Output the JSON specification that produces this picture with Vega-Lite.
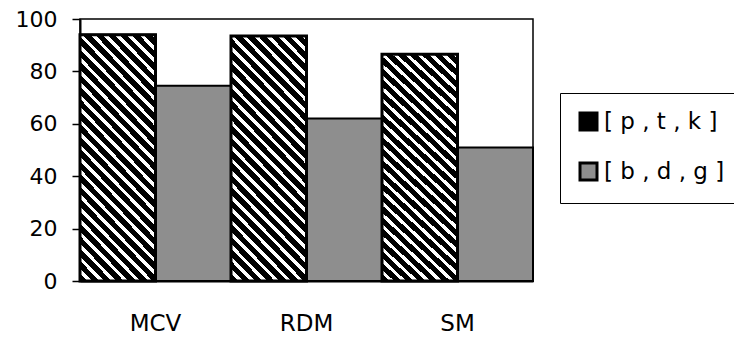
{
  "$schema": "https://vega.github.io/schema/vega-lite/v6.json",
  "width": 453,
  "height": 262,
  "autosize": {"type": "none"},
  "padding": {"left": 80, "top": 19, "right": 201, "bottom": 57},
  "background": "white",
  "config": {
    "view": {"stroke": "#000", "strokeWidth": 1.5},
    "font": "DejaVu Sans"
  },
  "data": {
    "values": [
      {"group": "MCV", "series": "[ p , t , k ]", "value": 94},
      {"group": "MCV", "series": "[ b , d , g ]", "value": 74.5},
      {"group": "RDM", "series": "[ p , t , k ]", "value": 93.5},
      {"group": "RDM", "series": "[ b , d , g ]", "value": 62},
      {"group": "SM", "series": "[ p , t , k ]", "value": 86.5},
      {"group": "SM", "series": "[ b , d , g ]", "value": 51}
    ]
  },
  "encoding": {
    "x": {
      "field": "group",
      "type": "nominal",
      "sort": ["MCV", "RDM", "SM"],
      "scale": {"paddingInner": 0, "paddingOuter": 0},
      "axis": {
        "title": null,
        "labelAngle": 0,
        "labelFont": "DejaVu Sans",
        "labelFontSize": 23,
        "labelColor": "#000",
        "ticks": false,
        "labelPadding": 31,
        "domainColor": "#000",
        "domainWidth": 2
      }
    },
    "xOffset": {
      "field": "series",
      "type": "nominal",
      "scale": {"domain": ["[ p , t , k ]", "[ b , d , g ]"], "paddingInner": 0, "paddingOuter": 0}
    },
    "y": {
      "field": "value",
      "type": "quantitative",
      "scale": {"domain": [0, 100], "nice": false},
      "axis": {
        "title": null,
        "values": [0, 20, 40, 60, 80, 100],
        "grid": false,
        "labelFont": "DejaVu Sans",
        "labelFontSize": 22,
        "labelColor": "#000",
        "tickColor": "#000",
        "tickSize": 8,
        "tickWidth": 1.5,
        "labelPadding": 15,
        "domainColor": "#000",
        "domainWidth": 2
      }
    }
  },
  "layer": [
    {
      "mark": {"type": "bar", "stroke": "#000", "strokeWidth": 2},
      "encoding": {
        "color": {
          "field": "series",
          "type": "nominal",
          "scale": {"domain": ["[ p , t , k ]", "[ b , d , g ]"], "range": ["#000000", "#8e8e8e"]},
          "legend": {
            "title": null,
            "orient": "none",
            "legendX": 480,
            "legendY": 74,
            "padding": 17,
            "strokeColor": "#000",
            "fillColor": "#fff",
            "symbolType": "square",
            "symbolSize": 289,
            "symbolStrokeColor": "#000",
            "symbolStrokeWidth": 3,
            "labelFont": "DejaVu Sans",
            "labelFontSize": 23,
            "labelColor": "#000",
            "labelOffset": 4,
            "rowPadding": 21
          }
        }
      }
    },
    {
      "transform": [{"filter": "datum.series === '[ p , t , k ]'"}],
      "mark": {
        "type": "bar",
        "stroke": "#000",
        "strokeWidth": 3,
        "fill": {
          "gradient": "linear",
          "x1": 0, "y1": 1, "x2": 0.3764, "y2": -0.1966,
          "stops": [
            {"offset": 0, "color": "#000"}, {"offset": 0.0238, "color": "#000"}, {"offset": 0.0238, "color": "#fff"}, {"offset": 0.0385, "color": "#fff"},
            {"offset": 0.0385, "color": "#000"}, {"offset": 0.0623, "color": "#000"}, {"offset": 0.0623, "color": "#fff"}, {"offset": 0.0769, "color": "#fff"},
            {"offset": 0.0769, "color": "#000"}, {"offset": 0.1007, "color": "#000"}, {"offset": 0.1007, "color": "#fff"}, {"offset": 0.1154, "color": "#fff"},
            {"offset": 0.1154, "color": "#000"}, {"offset": 0.1392, "color": "#000"}, {"offset": 0.1392, "color": "#fff"}, {"offset": 0.1538, "color": "#fff"},
            {"offset": 0.1538, "color": "#000"}, {"offset": 0.1777, "color": "#000"}, {"offset": 0.1777, "color": "#fff"}, {"offset": 0.1923, "color": "#fff"},
            {"offset": 0.1923, "color": "#000"}, {"offset": 0.2161, "color": "#000"}, {"offset": 0.2161, "color": "#fff"}, {"offset": 0.2308, "color": "#fff"},
            {"offset": 0.2308, "color": "#000"}, {"offset": 0.2546, "color": "#000"}, {"offset": 0.2546, "color": "#fff"}, {"offset": 0.2692, "color": "#fff"},
            {"offset": 0.2692, "color": "#000"}, {"offset": 0.2931, "color": "#000"}, {"offset": 0.2931, "color": "#fff"}, {"offset": 0.3077, "color": "#fff"},
            {"offset": 0.3077, "color": "#000"}, {"offset": 0.3315, "color": "#000"}, {"offset": 0.3315, "color": "#fff"}, {"offset": 0.3462, "color": "#fff"},
            {"offset": 0.3462, "color": "#000"}, {"offset": 0.37, "color": "#000"}, {"offset": 0.37, "color": "#fff"}, {"offset": 0.3846, "color": "#fff"},
            {"offset": 0.3846, "color": "#000"}, {"offset": 0.4085, "color": "#000"}, {"offset": 0.4085, "color": "#fff"}, {"offset": 0.4231, "color": "#fff"},
            {"offset": 0.4231, "color": "#000"}, {"offset": 0.4469, "color": "#000"}, {"offset": 0.4469, "color": "#fff"}, {"offset": 0.4615, "color": "#fff"},
            {"offset": 0.4615, "color": "#000"}, {"offset": 0.4854, "color": "#000"}, {"offset": 0.4854, "color": "#fff"}, {"offset": 0.5, "color": "#fff"},
            {"offset": 0.5, "color": "#000"}, {"offset": 0.5238, "color": "#000"}, {"offset": 0.5238, "color": "#fff"}, {"offset": 0.5385, "color": "#fff"},
            {"offset": 0.5385, "color": "#000"}, {"offset": 0.5623, "color": "#000"}, {"offset": 0.5623, "color": "#fff"}, {"offset": 0.5769, "color": "#fff"},
            {"offset": 0.5769, "color": "#000"}, {"offset": 0.6007, "color": "#000"}, {"offset": 0.6007, "color": "#fff"}, {"offset": 0.6154, "color": "#fff"},
            {"offset": 0.6154, "color": "#000"}, {"offset": 0.6392, "color": "#000"}, {"offset": 0.6392, "color": "#fff"}, {"offset": 0.6538, "color": "#fff"},
            {"offset": 0.6538, "color": "#000"}, {"offset": 0.6777, "color": "#000"}, {"offset": 0.6777, "color": "#fff"}, {"offset": 0.6923, "color": "#fff"},
            {"offset": 0.6923, "color": "#000"}, {"offset": 0.7161, "color": "#000"}, {"offset": 0.7161, "color": "#fff"}, {"offset": 0.7308, "color": "#fff"},
            {"offset": 0.7308, "color": "#000"}, {"offset": 0.7546, "color": "#000"}, {"offset": 0.7546, "color": "#fff"}, {"offset": 0.7692, "color": "#fff"},
            {"offset": 0.7692, "color": "#000"}, {"offset": 0.7931, "color": "#000"}, {"offset": 0.7931, "color": "#fff"}, {"offset": 0.8077, "color": "#fff"},
            {"offset": 0.8077, "color": "#000"}, {"offset": 0.8315, "color": "#000"}, {"offset": 0.8315, "color": "#fff"}, {"offset": 0.8462, "color": "#fff"},
            {"offset": 0.8462, "color": "#000"}, {"offset": 0.87, "color": "#000"}, {"offset": 0.87, "color": "#fff"}, {"offset": 0.8846, "color": "#fff"},
            {"offset": 0.8846, "color": "#000"}, {"offset": 0.9085, "color": "#000"}, {"offset": 0.9085, "color": "#fff"}, {"offset": 0.9231, "color": "#fff"},
            {"offset": 0.9231, "color": "#000"}, {"offset": 0.9469, "color": "#000"}, {"offset": 0.9469, "color": "#fff"}, {"offset": 0.9615, "color": "#fff"},
            {"offset": 0.9615, "color": "#000"}, {"offset": 0.9854, "color": "#000"}, {"offset": 0.9854, "color": "#fff"}, {"offset": 1, "color": "#fff"}
          ]
        }
      }
    }
  ]
}
